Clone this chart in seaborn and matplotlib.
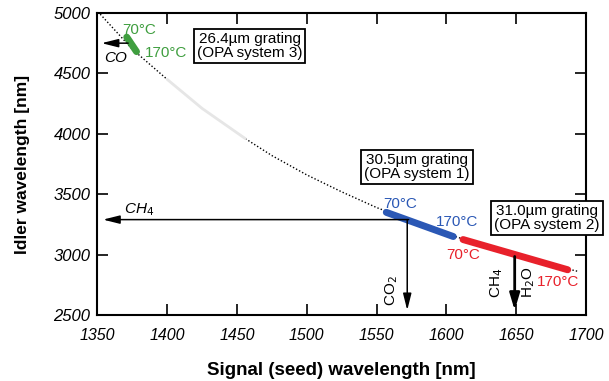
#!/usr/bin/env python
# -*- coding: utf-8 -*-

"""
OPA tuning curve: idler vs. signal (seed) wavelength for three gratings.
"""

import numpy as np
import pandas as pd
import matplotlib
matplotlib.use("Agg")
import matplotlib.pyplot as plt
import seaborn as sns

# Tuning curve (signal nm, idler nm)
curve_signal = [1352, 1375, 1400, 1425, 1456, 1475, 1500, 1525, 1550, 1575, 1600, 1625, 1650, 1675, 1695]
curve_idler = [4990, 4700, 4450, 4210, 3960, 3820, 3660, 3520, 3390, 3280, 3175, 3080, 2995, 2915, 2860]

# Grating segments (70C -> 170C)
seg_names = ["26.4", "30.5", "31.0"]
seg_signal = [[1371, 1378], [1557, 1605], [1612, 1687]]
seg_idler = [[4800, 4680], [3350, 3150], [3125, 2875]]
seg_colors = ["#3f9e3f", "#2b58b5", "#e8212b"]

# Gas absorption lines
ch4_idler = 3290
co_idler = 4750
co2_signal = 1572
ch4_h2o_signal = 1649

x_ticks = [1350, 1400, 1450, 1500, 1550, 1600, 1650, 1700]
y_ticks = [2500, 3000, 3500, 4000, 4500, 5000]

sns.set_style("ticks")
plt.rcParams["font.family"] = ["Liberation Sans", "DejaVu Sans"]
plt.rcParams["text.color"] = "black"
plt.rcParams["axes.labelcolor"] = "black"

fig = plt.figure(figsize=(6.09, 3.81), dpi=100)
ax = fig.add_axes([0.160, 0.173, 0.802, 0.793])

# Dotted tuning curve; in the scan the part 1400-1456 nm is only a faint grey trace
curve = pd.DataFrame({"signal": curve_signal, "idler": curve_idler})
upper = curve[curve.signal <= 1400]
faint = curve[(curve.signal >= 1400) & (curve.signal <= 1456)]
lower = curve[curve.signal >= 1456]
for part in (upper, lower):
    sns.lineplot(data=part, x="signal", y="idler", ax=ax, color="black",
                 linestyle=(0, (1, 1.5)), linewidth=1.0, sort=False)
sns.lineplot(data=faint, x="signal", y="idler", ax=ax, color="#e6e6e6",
             linewidth=2.0, sort=False)

# Thick coloured segments for each grating
for name, xs, ys, col in zip(seg_names, seg_signal, seg_idler, seg_colors):
    seg = pd.DataFrame({"signal": xs, "idler": ys})
    sns.lineplot(data=seg, x="signal", y="idler", ax=ax, color=col,
                 linewidth=5, solid_capstyle="round", sort=False)

# Arrows to absorption lines
arrow_kw = dict(arrowstyle="-|>,head_length=1.0,head_width=0.25", color="black", lw=1.1,
                shrinkA=0, shrinkB=0)
ax.annotate("", xy=(1354, ch4_idler), xytext=(co2_signal + 1, ch4_idler), arrowprops=arrow_kw)
ax.annotate("", xy=(1353, co_idler), xytext=(1372, co_idler), arrowprops=arrow_kw)
ax.annotate("", xy=(co2_signal, 2540), xytext=(co2_signal, ch4_idler), arrowprops=arrow_kw)
ax.annotate("", xy=(ch4_h2o_signal, 2540), xytext=(ch4_h2o_signal, 2985),
            arrowprops=dict(arrowstyle="-|>,head_length=1.0,head_width=0.3", color="black",
                            lw=2.0, shrinkA=0, shrinkB=0))

ax.text(1380, 3370, "CH$_4$", fontsize=11, style="italic", ha="center", va="center")
ax.text(1363, 4625, "CO", fontsize=11, style="italic", ha="center", va="center")
ax.text(1561, 2700, "CO$_2$", fontsize=11, rotation=90, ha="center", va="center")
ax.text(1636, 2770, "CH$_4$", fontsize=11, rotation=90, ha="center", va="center")
ax.text(1659, 2770, "H$_2$O", fontsize=11, rotation=90, ha="center", va="center")

# Temperature labels
temp_labels = [
    (1380, 4860, "70°C", seg_colors[0]),
    (1399, 4670, "170°C", seg_colors[0]),
    (1567, 3420, "70°C", seg_colors[1]),
    (1608, 3270, "170°C", seg_colors[1]),
    (1612, 3000, "70°C", seg_colors[2]),
    (1680, 2775, "170°C", seg_colors[2]),
]
for x, y, txt, col in temp_labels:
    ax.text(x, y, txt, color=col, fontsize=11, ha="center", va="center")

# Grating boxes
box_kw = dict(boxstyle="square,pad=0.2", fc="white", ec="black", lw=1.3)
ax.text(1459, 4730, "26.4µm grating\n(OPA system 3)", fontsize=11, ha="center",
        va="center", bbox=box_kw, linespacing=1.0)
ax.text(1579, 3725, "30.5µm grating\n(OPA system 1)", fontsize=11, ha="center",
        va="center", bbox=box_kw, linespacing=1.0)
ax.text(1672, 3305, "31.0µm grating\n(OPA system 2)", fontsize=11, ha="center",
        va="center", bbox=box_kw, linespacing=1.0, clip_on=False)

ax.set_xlim(1350, 1700)
ax.set_ylim(2500, 5000)
ax.set_xticks(x_ticks)
ax.set_yticks(y_ticks)
ax.set_xticklabels([str(t) for t in x_ticks], style="italic", fontsize=11.5)
ax.set_yticklabels([str(t) for t in y_ticks], style="italic", fontsize=12)
ax.tick_params(direction="in", length=8, width=1.2, top=True, right=True, colors="black")
ax.tick_params(axis="x", pad=9)
ax.tick_params(axis="y", pad=5)
for sp in ax.spines.values():
    sp.set_linewidth(1.5)
    sp.set_color("black")
    sp.set_visible(True)

ax.set_xlabel("Signal (seed) wavelength [nm]", fontsize=13.5, fontweight="bold", labelpad=14)
ax.set_ylabel("Idler wavelength [nm]", fontsize=12.5, fontweight="bold", labelpad=17)

fig.savefig("out.png", dpi=100)
